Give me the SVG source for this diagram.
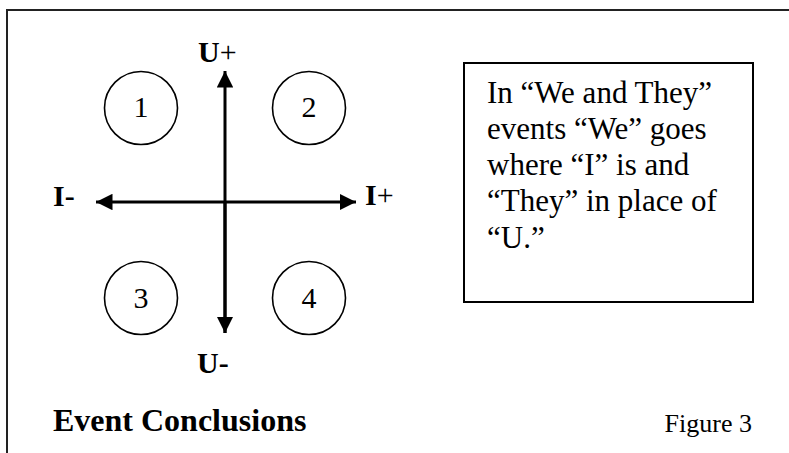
<svg xmlns="http://www.w3.org/2000/svg" width="789" height="453" viewBox="0 0 789 453">
<style>
.t{font-family:"Liberation Serif","Times New Roman",serif;fill:#000}
.b{font-weight:bold}
.ring{fill:none;stroke:#000;stroke-width:1.6}
.ax{stroke:#000;stroke-width:3;fill:none}
</style>
<defs>
<marker id="ah" viewBox="0 0 10 10" refX="10" refY="5" markerWidth="5.5" markerHeight="5.5" orient="auto" markerUnits="strokeWidth">
<path d="M0,0 L10,5 L0,10 Z" fill="#000"/>
</marker>
</defs>
<rect width="789" height="453" fill="#fff"/>
<path d="M7,453 V10 H789" fill="none" stroke="#222" stroke-width="2"/>
<g id="connectors">
<line class="ax" x1="225" y1="333" x2="225" y2="71" marker-end="url(#ah)"/>
<line class="ax" x1="225" y1="202" x2="225" y2="333" marker-end="url(#ah)"/>
<line class="ax" x1="225" y1="202" x2="96" y2="202" marker-end="url(#ah)"/>
<line class="ax" x1="225" y1="202" x2="356" y2="202" marker-end="url(#ah)"/>
</g>
<g id="n1"><circle class="ring" cx="141" cy="108" r="36.5"/><text class="t" x="141" y="117" font-size="30" text-anchor="middle">1</text></g>
<g id="n2"><circle class="ring" cx="309" cy="108" r="36.5"/><text class="t" x="309" y="117" font-size="30" text-anchor="middle">2</text></g>
<g id="n3"><circle class="ring" cx="141" cy="298" r="36.5"/><text class="t" x="141" y="308" font-size="30" text-anchor="middle">3</text></g>
<g id="n4"><circle class="ring" cx="309" cy="298" r="36.5"/><text class="t" x="309" y="308" font-size="30" text-anchor="middle">4</text></g>
<g id="labels">
<text class="t" x="198" y="62" font-size="30"><tspan class="b">U</tspan>+</text>
<text class="t b" x="197" y="373" font-size="30">U-</text>
<text class="t b" x="53" y="206" font-size="30">I-</text>
<text class="t" x="365" y="205" font-size="30"><tspan class="b">I</tspan>+</text>
</g>
<g id="note">
<rect x="464" y="63" width="289" height="239" fill="#fff" stroke="#000" stroke-width="2"/>
<text class="t" font-size="31">
<tspan x="487" y="103">In “We and They”</tspan>
<tspan x="487" y="139">events “We” goes</tspan>
<tspan x="487" y="175">where “I” is and</tspan>
<tspan x="487" y="211">“They” in place of</tspan>
<tspan x="487" y="248">“U.”</tspan>
</text>
</g>
<text class="t b" x="53" y="431" font-size="32">Event Conclusions</text>
<text class="t" x="752" y="432" font-size="26" text-anchor="end">Figure 3</text>
</svg>
